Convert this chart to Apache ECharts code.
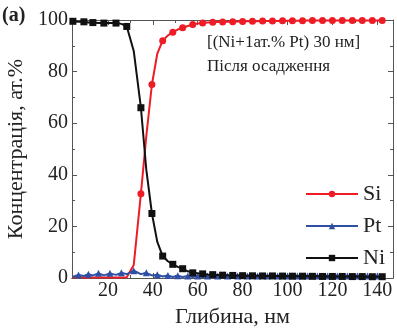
<!DOCTYPE html>
<html><head><meta charset="utf-8">
<script src="https://cdn.jsdelivr.net/npm/echarts@6/dist/echarts.min.js"></script>
<style>html,body{margin:0;padding:0;background:#fff}#c{width:397px;height:329px}</style>
</head><body><div id="c"></div>
<script>
// depth (nm)
const depth = [4.4, 6.9, 9.3, 11.3, 13.3, 15.8, 18.2, 20.9, 23.6, 26.0, 28.4, 31.5, 34.7, 37.1, 39.6, 42.0, 44.4, 46.7, 48.9, 51.1, 53.3, 55.6, 57.8, 60.0, 62.2, 64.4, 66.7, 68.9, 71.1, 73.3, 75.6, 77.8, 80.0, 82.2, 84.4, 86.7, 88.9, 91.1, 93.3, 95.6, 97.8, 100.0, 102.2, 104.4, 106.7, 108.9, 111.1, 113.3, 115.6, 117.8, 120.0, 122.2, 124.4, 126.7, 128.9, 131.1, 133.3, 135.6, 137.8, 140.0, 142.2];
const si = [0.2, 0.2, 0.2, 0.2, 0.2, 0.2, 0.2, 0.2, 0.2, 0.2, 0.3, 5, 32.7, 55, 75, 87, 92, 94, 95.3, 96.3, 97.0, 97.7, 98.3, 98.6, 98.8, 99.0, 99.1, 99.2, 99.2, 99.3, 99.3, 99.4, 99.4, 99.5, 99.5, 99.5, 99.6, 99.6, 99.6, 99.6, 99.7, 99.7, 99.7, 99.7, 99.7, 99.8, 99.8, 99.8, 99.8, 99.8, 99.8, 99.8, 99.8, 99.8, 99.8, 99.8, 99.8, 99.8, 99.8, 99.8, 99.8];
const pt = [0.5, 1.2, 0.8, 1.5, 1.0, 1.8, 1.0, 1.8, 1.2, 2.0, 1.5, 2.8, 1.5, 2.0, 1.0, 1.3, 0.6, 1.0, 0.4, 0.9, 0.4, 0.8, 0.4, 0.8, 0.4, 0.8, 0.4, 0.8, 0.4, 0.8, 0.4, 0.8, 0.4, 0.8, 0.4, 0.8, 0.4, 0.8, 0.4, 0.8, 0.4, 0.8, 0.4, 0.8, 0.4, 0.8, 0.4, 0.8, 0.4, 0.8, 0.4, 0.8, 0.4, 0.8, 0.4, 0.8, 0.4, 0.8, 0.4, 0.8, 0.4];
const ni = [99.5, 99.3, 99.3, 99.0, 99.0, 98.8, 98.8, 98.8, 98.8, 98.5, 97.5, 88, 66, 42, 25, 14, 8.5, 6.5, 5.3, 4.3, 3.6, 2.6, 2.0, 1.8, 1.6, 1.4, 1.3, 1.2, 1.1, 1.05, 1.0, 0.95, 0.9, 0.9, 0.85, 0.85, 0.8, 0.8, 0.8, 0.75, 0.75, 0.7, 0.7, 0.7, 0.7, 0.65, 0.65, 0.65, 0.6, 0.6, 0.6, 0.6, 0.6, 0.55, 0.55, 0.55, 0.55, 0.5, 0.5, 0.5, 0.5];
const xLabels = [20, 40, 60, 80, 100, 120, 140];
const xMinor = [10, 30, 50, 70, 90, 110, 130];
const seriesNames = ['Si', 'Pt', 'Ni'];
const titleText = '(a)';
const noteLines = ['[(Ni+1ат.% Pt) 30 нм]', 'Після осадження'];
const xName = 'Глибина, нм';
const yName = 'Концентрація, ат.%';

const FONT = '"Liberation Serif", "DejaVu Serif", serif';
const AX = '#555';
function mk(vals, sym, marked, from) {
  return depth.map((d, i) => ({ value: [d, vals[i]], symbol: (i % 2 === marked && i >= from) ? sym : 'none' }));
}
const chart = echarts.init(document.getElementById('c'), null, { renderer: 'canvas' });
const xBase = { type: 'value', min: 4, max: 147, splitLine: { show: false },
  axisLine: { onZero: false, lineStyle: { color: AX, width: 1 } } };
chart.setOption({
  animation: false,
  textStyle: { fontFamily: FONT },
  grid: { left: 72, right: 4, top: 20, bottom: 51, containLabel: false, outerBoundsMode: 'none' },
  xAxis: [
    Object.assign({}, xBase, { position: 'bottom', name: xName, nameLocation: 'middle', nameGap: 23,
      nameTextStyle: { fontFamily: FONT, fontSize: 22, color: '#222' },
      axisTick: { inside: true, length: 5, customValues: xLabels, lineStyle: { color: AX } },
      axisLabel: { customValues: xLabels, fontFamily: FONT, fontSize: 20, color: '#222', margin: 3 } }),
    Object.assign({}, xBase, { position: 'bottom', axisTick: { inside: true, length: 3, customValues: xMinor, lineStyle: { color: AX } },
      axisLabel: { show: false } }),
    Object.assign({}, xBase, { position: 'top', axisTick: { inside: true, length: 5, customValues: xLabels, lineStyle: { color: AX } },
      axisLabel: { show: false } }),
    Object.assign({}, xBase, { position: 'top', axisTick: { inside: true, length: 3, customValues: xMinor, lineStyle: { color: AX } },
      axisLabel: { show: false } })
  ],
  yAxis: [
    { type: 'value', min: 0, max: 100, interval: 20, position: 'left', splitLine: { show: false },
      name: yName, nameLocation: 'middle', nameGap: 36,
      nameTextStyle: { fontFamily: FONT, fontSize: 22, color: '#222' },
      axisLine: { show: true, lineStyle: { color: AX } },
      axisTick: { show: true, inside: true, length: 5, lineStyle: { color: AX } },
      minorTick: { show: true, splitNumber: 2, length: 3, lineStyle: { color: AX } },
      axisLabel: { fontFamily: FONT, fontSize: 20, color: '#222', margin: 4 } },
    { type: 'value', min: 0, max: 100, interval: 20, position: 'right', splitLine: { show: false },
      axisLine: { show: true, lineStyle: { color: AX } },
      axisTick: { show: true, inside: true, length: 5, lineStyle: { color: AX } },
      minorTick: { show: true, splitNumber: 2, length: 3, lineStyle: { color: AX } },
      axisLabel: { show: false } }
  ],
  legend: {
    orient: 'vertical', left: 300, top: 178, itemWidth: 52, itemHeight: 8, itemGap: 10,
    data: seriesNames,
    textStyle: { fontFamily: FONT, fontSize: 22, color: '#222', padding: [0, 0, 0, 0] }
  },
  graphic: [
    { type: 'text', left: 2, top: 6, style: { text: titleText, font: 'bold 20px "Liberation Serif", serif', fill: '#222' } },
    { type: 'text', left: 207, top: 34, style: { text: noteLines[0], font: '17px "Liberation Serif", serif', fill: '#222' } },
    { type: 'text', left: 207, top: 58, style: { text: noteLines[1], font: '17px "Liberation Serif", serif', fill: '#222' } }
  ],
  series: [
    { name: seriesNames[0], type: 'line', data: mk(si, 'circle', 0, 12), symbol: 'circle', symbolSize: 7,
      itemStyle: { color: '#ee1c25' }, lineStyle: { color: '#ee1c25', width: 2 }, z: 2 },
    { name: seriesNames[1], type: 'line', data: mk(pt, 'triangle', 1, 0), symbol: 'triangle', symbolSize: 7,
      itemStyle: { color: '#2e4fa3' }, lineStyle: { color: '#2e4fa3', width: 2 }, z: 3 },
    { name: seriesNames[2], type: 'line', data: mk(ni, 'rect', 0, 0), symbol: 'rect', symbolSize: 7,
      itemStyle: { color: '#111' }, lineStyle: { color: '#111', width: 2 }, z: 4 }
  ]
});
</script></body></html>
